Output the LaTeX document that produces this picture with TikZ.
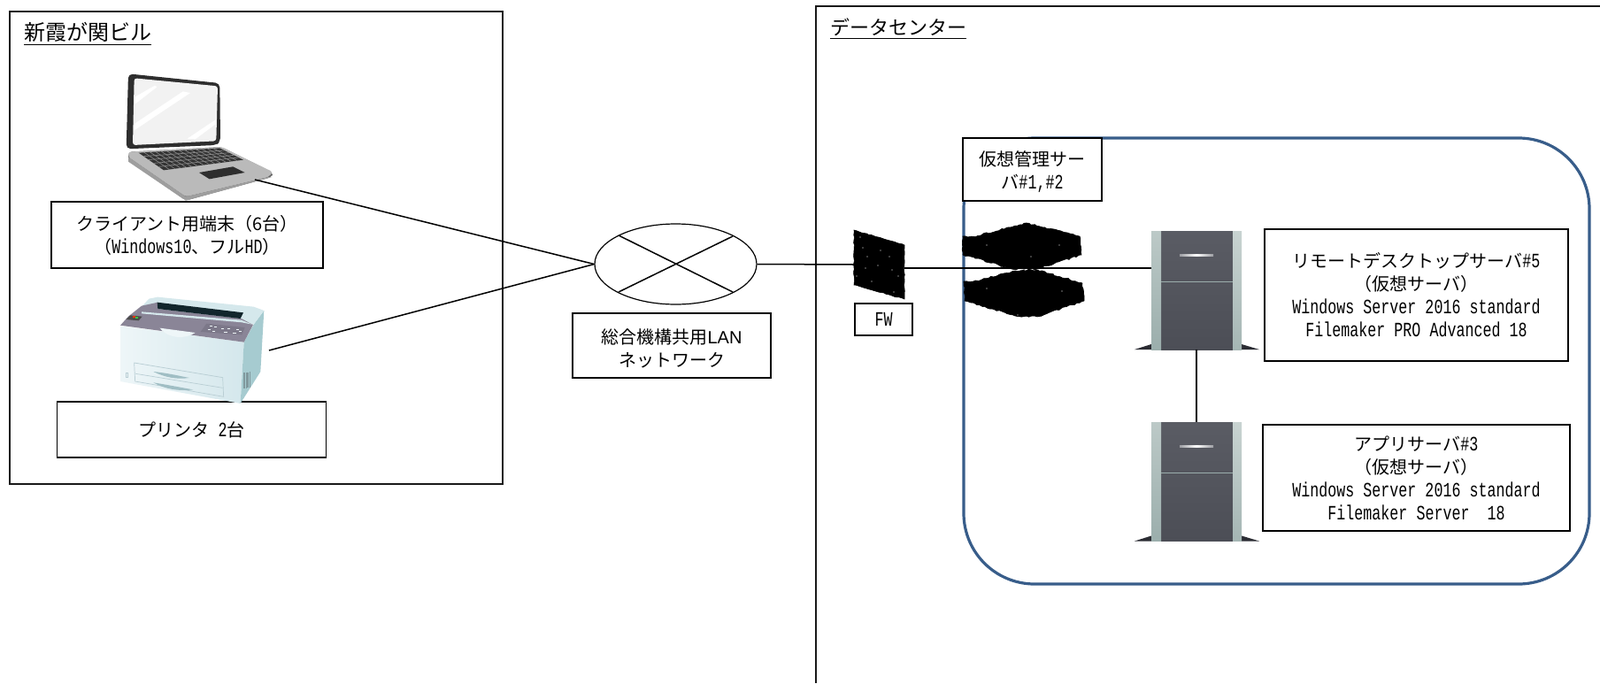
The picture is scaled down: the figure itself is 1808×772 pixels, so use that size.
\documentclass[tikz,border=0pt]{standalone}
\usepackage{fontspec}
\setmainfont{Liberation Mono}[Scale=1.15,FakeStretch=0.725]
\newfontfamily\cj{Noto Sans CJK JP}
\newfontfamily\ar{Liberation Sans}
\usetikzlibrary{shapes.geometric,calc,decorations.pathmorphing}
\newcommand\jp[1]{{\cj #1}}
\newcommand\ulbox[1]{\vtop{\hbox{#1}\kern2.5pt\hrule height 1.6pt}}
\newcommand\tallstrut{\rule{0pt}{22.5pt}}
\normallineskiplimit=-100pt\relax
\AtBeginDocument{\lineskiplimit=-100pt\relax}
\definecolor{blueframe}{HTML}{385D8A}
\definecolor{srvdark}{HTML}{4C4E56}
\definecolor{srvtop}{HTML}{5A5C64}
\definecolor{srvfoot}{HTML}{2B2C33}
\definecolor{colAtop}{HTML}{BCC9C7}
\definecolor{colAbot}{HTML}{9BAEAC}
\definecolor{colBtop}{HTML}{C8D3D1}
\definecolor{colBmid}{HTML}{E4EBEB}
\definecolor{colBbot}{HTML}{A5B6B4}
\definecolor{prnfrontL}{HTML}{EEF6F8}
\definecolor{prnfrontR}{HTML}{D4E7EC}
\definecolor{prnside}{HTML}{A6CBD0}
\definecolor{prncover}{HTML}{D5E8EC}
\definecolor{prnband}{HTML}{8A8597}
\definecolor{prnpanel}{HTML}{7C7889}
\definecolor{prnslot}{HTML}{12262C}
\definecolor{prnline}{HTML}{B9CED4}
\definecolor{prnlens}{HTML}{A0BEC4}
\tikzset{
 wire/.style={draw=black,line width=1.5pt},
 frame/.style={draw=black!90,line width=2pt},
 lbl/.style={draw=black,line width=1.5pt,fill=white,inner sep=0pt,align=center,font=\fontsize{20}{26}\selectfont},
 ttl/.style={anchor=base west,inner sep=0pt},
 srv/.style={inner sep=0pt,minimum width=102pt,minimum height=134pt},
 blob/.style={fill=black,draw=black,line width=0.6pt,decorate,decoration={random steps,segment length=3pt,amplitude=0.9pt}},
 srvpic/.pic={
  \fill[srvfoot] (-70,67) -- (-51,61) -- (-51,67) -- cycle;
  \fill[srvfoot] (71,67) -- (51,61) -- (51,67) -- cycle;
  \shade[top color=srvtop,bottom color=srvdark] (-40,-67) rectangle (41,67);
  \shade[top color=colAtop,bottom color=colAbot] (-51,-67) rectangle (-40,67);
  \shade[top color=colBtop,middle color=colBmid,bottom color=colBbot] (41,-67) rectangle (51,67);
  \fill[colAbot] (-40,-10.5) rectangle (41,-9.3);
  \shade[left color=srvtop!60!white,right color=srvtop!60!white,middle color=white] (-19,-40.8) rectangle (19,-38.8);
 }
}
\begin{document}
\begin{tikzpicture}[x=1pt,y=-1pt]
\useasboundingbox (0,0) rectangle (1808,772);
\fill[white] (0,0) rectangle (1808,772);

% enclosures
\draw[frame] (11,12.5) rectangle (567.5,547);
\draw[frame] (1808,6.8) -- (922,6.8) -- (922,772);
\draw[draw=blueframe,line width=3.2pt,rounded corners=80pt] (1089,156) rectangle (1796,660);
\node[ttl] (tshin) at (27,45) {\fontsize{24}{24}\selectfont\ulbox{\jp{新霞が関ビル}}};
\node[ttl] (tdc) at (938,39) {\fontsize{22}{22}\selectfont\ulbox{\jp{データセンター}}};

% labels
\node[lbl,minimum width=307pt,minimum height=75pt] (lclient) at (211.5,265.5)
 {\jp{クライアント用端末（6台）}\\\jp{（}Windows10\jp{、フル}HD\jp{）}};
\node[lbl,minimum width=304pt,minimum height=63pt] (lprint) at (216.5,485.5) {\jp{プリンタ} 2\jp{台}};
\node[lbl,minimum width=224pt,minimum height=73pt] (lnet) at (759,390.5)
 {\tallstrut\jp{総合機構共用}{\ar LAN}\\\jp{ネットワーク}};
\node[lbl,minimum width=65pt,minimum height=36pt] (lfw) at (998.5,361) {FW};
\node[lbl,minimum width=343pt,minimum height=149pt] (lrdp) at (1600.5,333.5)
 {\jp{リモートデスクトップサーバ}\#5\\\jp{（仮想サーバ）}\\Windows Server 2016 standard\\Filemaker PRO Advanced 18};
\node[lbl,minimum width=347pt,minimum height=120pt] (lapp) at (1600.5,540)
 {\jp{アプリサーバ}\#3\\\jp{（仮想サーバ）}\\Windows Server 2016 standard\\Filemaker Server\ \ 18};

% network
\node[draw=black,line width=1.2pt,shape=ellipse,inner sep=0pt,minimum width=183pt,minimum height=91pt] (net) at (763.5,298.5) {};
\coordinate (c1) at (699,266); \coordinate (c2) at (828,330);
\coordinate (c3) at (699,330); \coordinate (c4) at (828,267);
\draw[wire] (c1) -- (c2);
\draw[wire] (c3) -- (c4);

% connector anchor points
\coordinate (plap) at (288,203);
\coordinate (pprn) at (304,396);
\coordinate (fwl) at (965,299);
\coordinate (fwr) at (1022,303);
\coordinate (s1p) at (1301,303);

% laptop
\begin{scope}[xshift=100pt,yshift=-60pt,x=0.33333pt,y=-0.33333pt]
 \fill[black!60,rounded corners=4pt] (135,335) -- (450,318) -- (625,405) -- (622,420) -- (330,500) -- (135,365) -- cycle;
 \fill[black!27,rounded corners=3pt] (135,335) -- (450,318) -- (625,403) -- (610,420) -- (330,487) -- (135,352) -- cycle;
 \fill[black!38] (135,352) -- (330,487) -- (610,420) -- (622,420) -- (330,500) -- (135,368) -- cycle;
 \coordinate (ka) at (170,338); \coordinate (kb) at (445,322);
 \coordinate (kc) at (525,362); \coordinate (kd) at (255,397);
 \fill[black!80] (ka) -- (kb) -- (kc) -- (kd) -- cycle;
 \foreach \i in {0.2,0.4,0.6,0.8}
  \draw[black!45,line width=0.6pt] ($(ka)!\i!(kd)$) -- ($(kb)!\i!(kc)$);
 \foreach \j in {0.07,0.14,0.21,0.28,0.35,0.42,0.5,0.57,0.64,0.71,0.78,0.85,0.92}
  \draw[black!45,line width=0.6pt] ($(ka)!\j!(kb)$) -- ($(kd)!\j!(kc)$);
 \fill[black!82] (375,405) -- (490,385) -- (530,405) -- (410,427) -- cycle;
 \fill[black!82,rounded corners=5pt] (135,70) -- (445,102) -- (447,300) -- (432,312) -- (128,325) -- cycle;
 \fill[white!95!black,rounded corners=3pt] (155,85) -- (438,112) -- (433,298) -- (150,312) -- cycle;
 \fill[white] (155,150) -- (225,110) -- (232,115) -- (155,175) -- cycle;
 \fill[white] (155,240) -- (320,130) -- (345,135) -- (155,262) -- cycle;
 \fill[white] (335,290) -- (432,225) -- (432,240) -- (362,292) -- cycle;
\end{scope}

% printer
\begin{scope}[xshift=110pt,yshift=-325pt,x=0.33333pt,y=-0.33333pt]
 \shade[left color=prnfrontL,right color=prnfrontR] (78,130) -- (497,185) -- (485,393) -- (78,318) -- cycle;
 \fill[prnside] (497,185) -- (530,125) -- (565,78) -- (553,285) -- (485,393) -- cycle;
 \fill[prncover] (150,65) -- (175,38) -- (205,32) -- (530,65) -- (565,78) -- (530,125) -- (490,108) -- cycle;
 \fill[prnband] (78,128) -- (105,98) -- (150,62) -- (205,50) -- (205,72) -- (488,105) -- (528,126) -- (497,185) -- cycle;
 \fill[prncover] (150,82) -- (488,110) -- (525,125) -- (490,118) -- (150,88) -- cycle;
 \fill[prnslot] (203,50) -- (495,85) -- (485,105) -- (205,72) -- cycle;
 \fill[prnpanel] (370,122) -- (500,135) -- (490,160) -- (350,150) -- cycle;
 \foreach \px/\py in {380/130,395/133,420/137,440/139,470/142,375/141,390/146,430/150,460/153,480/146}
  \fill[prnfrontL] (\px,\py) rectangle +(10,2);
 \fill[black!70] (112,94) -- (152,98) -- (140,112) -- (98,108) -- cycle;
 \fill[red!60!orange] (120,97) rectangle (128,102);
 \fill[green!50!gray] (130,100) rectangle (138,106);
 \fill[prnfrontL] (212,137) .. controls (240,175) and (300,175) .. (332,153) -- cycle;
 \draw[prnline,line width=0.7pt] (125,255) -- (425,305) -- (428,370) -- (128,318) -- cycle;
 \draw[prnline,line width=0.7pt] (130,292) -- (425,340);
 \fill[prnlens] (190,285) .. controls (240,290) and (280,300) .. (312,306) .. controls (270,312) and (230,305) .. cycle;
 \fill[prnlens] (190,322) .. controls (240,330) and (290,340) .. (325,346) .. controls (280,352) and (230,345) .. cycle;
 \foreach \vx in {496,500,504,508,512,516}
  \draw[prnlens!80!black,line width=0.5pt] (\vx,{292-\vx/6+80}) -- (\vx,{345-\vx/6+80});
 \draw[prnline,line width=0.6pt] (97,288) rectangle (103,305);
\end{scope}

% virtual-management servers (silhouettes)
\path[blob] (1088,267) -- (1100,267.5) -- (1160,252) -- (1220,267) -- (1222,288) -- (1172,304) -- (1143,304) -- (1097,290) -- (1088,288) -- cycle;
\path[blob] (1089,318) -- (1100,318) -- (1147,306) -- (1172,305) -- (1223,320) -- (1225,340) -- (1172,358) -- (1147,357) -- (1097,342) -- (1090,340) -- cycle;
\foreach \sx/\sy in {1115/277,1197/277,1165/290,1115/326,1200/329,1150/356,1171/303}
 \fill[white] (\sx,\sy) circle (0.6);
% firewall
\node[inner sep=0pt,minimum width=57pt,minimum height=78pt] (fw) at (993.5,299) {};
\path[blob,decoration={random steps,segment length=3pt,amplitude=0.5pt}] (965,260) -- (1022,277) -- (1022,338) -- (965,322) -- cycle;
\foreach \sx/\sy in {975/280,980/290,995/283,992/300,978/303,968/312,1008/305,1005/290,985/318,1010/330,1015/312,972/268}
 \fill[white] (\sx,\sy) circle (0.6);

% VM label above frame
\node[lbl,minimum width=157pt,minimum height=71pt] (lvm) at (1166.5,191.5)
 {\tallstrut\jp{仮想管理サー}\\\jp{バ}\#1,\#2};

% servers
\node[srv] (s1) at (1352,328) {};
\pic at (s1) {srvpic};
\node[srv] (s2) at (1352,544.5) {};
\pic at (s2) {srvpic};

% connectors
\draw[wire] (plap) -- (net.west);
\draw[wire] (pprn) -- (net.west);
\draw[wire] (net.east) -- (fwl);
\draw[wire] (fwr) -- (s1p);
\draw[wire] (s1.south) -- (s2.north);
\end{tikzpicture}
\end{document}
